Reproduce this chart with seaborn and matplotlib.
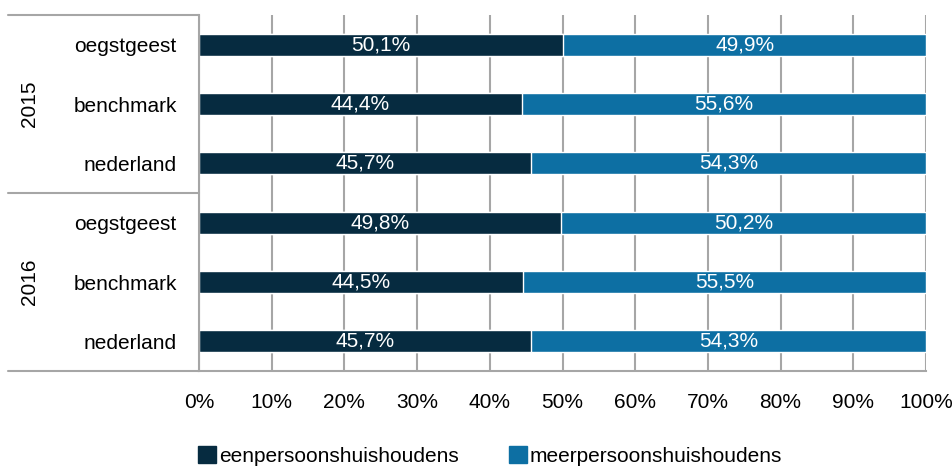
import matplotlib.pyplot as plt
import pandas as pd
import seaborn as sns
from matplotlib.patches import Patch

# data
years = ['2015', '2015', '2015', '2016', '2016', '2016']
regions = ['oegstgeest', 'benchmark', 'nederland', 'oegstgeest', 'benchmark', 'nederland']
eenpersoons = [50.1, 44.4, 45.7, 49.8, 44.5, 45.7]
meerpersoons = [49.9, 55.6, 54.3, 50.2, 55.5, 54.3]
x_ticks = [0, 10, 20, 30, 40, 50, 60, 70, 80, 90, 100]

df = pd.DataFrame({'jaar': years, 'regio': regions,
                   'een': eenpersoons, 'meer': meerpersoons})
df['rij'] = df['jaar'] + ' ' + df['regio']
df['totaal'] = df['een'] + df['meer']

sns.set_style('white')
plt.rcParams['font.family'] = ['Liberation Sans', 'DejaVu Sans']
plt.rcParams['text.color'] = 'black'
plt.rcParams['xtick.color'] = 'black'
plt.rcParams['ytick.color'] = 'black'

c_een = '#062b40'
c_meer = '#0d6fa3'
grid_c = '#a6a6a6'

fig = plt.figure(figsize=(9.52, 4.66), dpi=100)
ax = fig.add_axes([199 / 952, 1 - 371 / 466, (926 - 199) / 952, (371 - 15) / 466])

order = list(df['rij'])
sns.barplot(data=df, y='rij', x='totaal', order=order, color=c_meer,
            width=0.37, orient='h', ax=ax, saturation=1)
sns.barplot(data=df, y='rij', x='een', order=order, color=c_een,
            width=0.37, orient='h', ax=ax, saturation=1)

# labels in the segments
for i, r in df.iterrows():
    ax.text(r['een'] / 2, i, f"{r['een']:.1f}%".replace('.', ','),
            ha='center', va='center', color='white', fontsize=15)
    ax.text(r['een'] + r['meer'] / 2, i, f"{r['meer']:.1f}%".replace('.', ','),
            ha='center', va='center', color='white', fontsize=15)

ax.set_xlim(0, 100)
ax.set_ylim(5.5, -0.5)
ax.set_xticks(x_ticks)
ax.set_xticklabels([f'{t}%' for t in x_ticks], fontsize=15)
ax.set_yticks(range(len(regions)))
ax.set_yticklabels(regions, fontsize=15)
ax.tick_params(axis='y', length=0, pad=16)
ax.tick_params(axis='x', length=0, pad=16)
ax.set_xlabel('')
ax.set_ylabel('')
ax.set_axisbelow(True)
ax.grid(axis='x', color=grid_c, linewidth=1.5)
for s in ['top', 'right']:
    ax.spines[s].set_visible(False)
ax.spines['left'].set_color(grid_c)
ax.spines['left'].set_linewidth(1.5)
ax.spines['bottom'].set_color(grid_c)
ax.spines['bottom'].set_linewidth(1.5)

# nested category axis: year labels and group separators
x0 = (8 - 199) / (926 - 199)
for yb in [-0.5, 2.5, 5.5]:
    ax.plot([x0, 0], [yb, yb], color=grid_c, linewidth=1.5, clip_on=False,
            transform=ax.get_yaxis_transform())
for k, yr in enumerate(['2015', '2016']):
    ax.text((29 - 199) / (926 - 199), 3 * k + 1, yr, rotation=90, ha='center',
            va='center', fontsize=15, transform=ax.get_yaxis_transform())

# legend
handles = [Patch(color=c_een), Patch(color=c_meer)]
fig.legend(handles, ['eenpersoonshuishoudens', 'meerpersoonshuishoudens'],
           loc='lower center', bbox_to_anchor=(0.515, -0.04), ncol=2, frameon=False,
           fontsize=15, handlelength=0.85, handleheight=0.85, handletextpad=0.15,
           columnspacing=2.4)

fig.savefig('out.png', dpi=100)
